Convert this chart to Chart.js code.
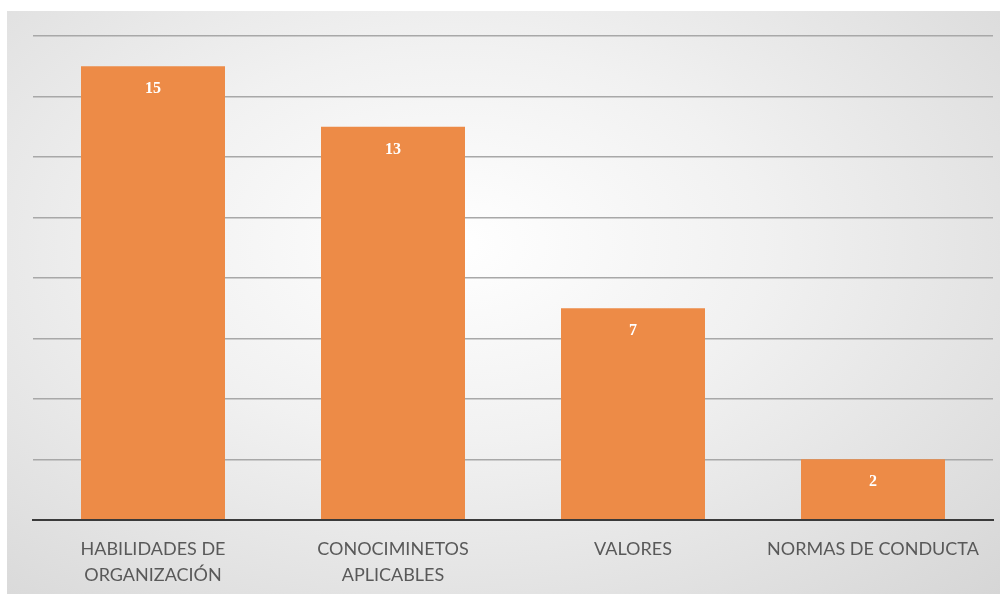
<!DOCTYPE html>
<html>
<head>
<meta charset="utf-8">
<script src="https://cdn.jsdelivr.net/npm/chart.js@4.4.1/dist/chart.umd.min.js"></script>
<style>
  html, body { margin: 0; padding: 0; background: #ffffff; }
  #frame {
    position: absolute; left: 7px; top: 11px; width: 993px; height: 583px; overflow: hidden;
    background: radial-gradient(ellipse at 45% 40%, #ffffff 0%, #f1f1f1 40%, #d6d6d6 100%);
  }
  #frame canvas { display: block; }
</style>
</head>
<body>
<div id="frame"><canvas id="chart" width="993" height="585"></canvas></div>
<script>
// categorias y valores
let categories = [
    ["HABILIDADES DE", "ORGANIZACIÓN"],
    ["CONOCIMINETOS", "APLICABLES"],
    "VALORES",
    "NORMAS DE CONDUCTA"
];
let values = [15, 13, 7, 2];
let yMax = 16;
let yStep = 2;

// etiquetas blancas dentro de cada barra
const barLabels = {
    id: "barLabels",
    afterDatasetsDraw(chart) {
        let ctx = chart.ctx;
        let meta = chart.getDatasetMeta(0);
        ctx.save();
        ctx.fillStyle = "#ffffff";
        ctx.font = "bold 16px 'Liberation Serif', serif";
        ctx.textAlign = "center";
        ctx.textBaseline = "middle";
        meta.data.forEach((bar, i) => {
            ctx.fillText(values[i], bar.x, bar.y + 23);
        });
        ctx.restore();
    }
};

let ctx = document.getElementById("chart").getContext("2d");
new Chart(ctx, {
    type: "bar",
    data: {
        labels: categories,
        datasets: [{
            data: values,
            backgroundColor: "#ED8B47",
            barPercentage: 0.6,
            categoryPercentage: 1.0
        }]
    },
    options: {
        responsive: false,
        animation: false,
        layout: { padding: { left: 26, right: 7, top: 25, bottom: 0 } },
        plugins: {
            legend: { display: false },
            tooltip: { enabled: false }
        },
        scales: {
            x: {
                grid: { display: false },
                border: { display: true, color: "#3a3a3a", width: 2 },
                ticks: {
                    color: "#595959",
                    font: { family: "Lato", size: 18, lineHeight: 1.45 },
                    padding: 8,
                    maxRotation: 0,
                    autoSkip: false
                }
            },
            y: {
                min: 0,
                max: yMax,
                ticks: { display: false, stepSize: yStep },
                border: { display: false },
                grid: {
                    drawTicks: false,
                    color: (c) => c.tick && c.tick.value === 0 ? "rgba(0,0,0,0)" : "#a8a8a8",
                    lineWidth: 1.5
                }
            }
        }
    },
    plugins: [barLabels]
});
</script>
</body>
</html>
